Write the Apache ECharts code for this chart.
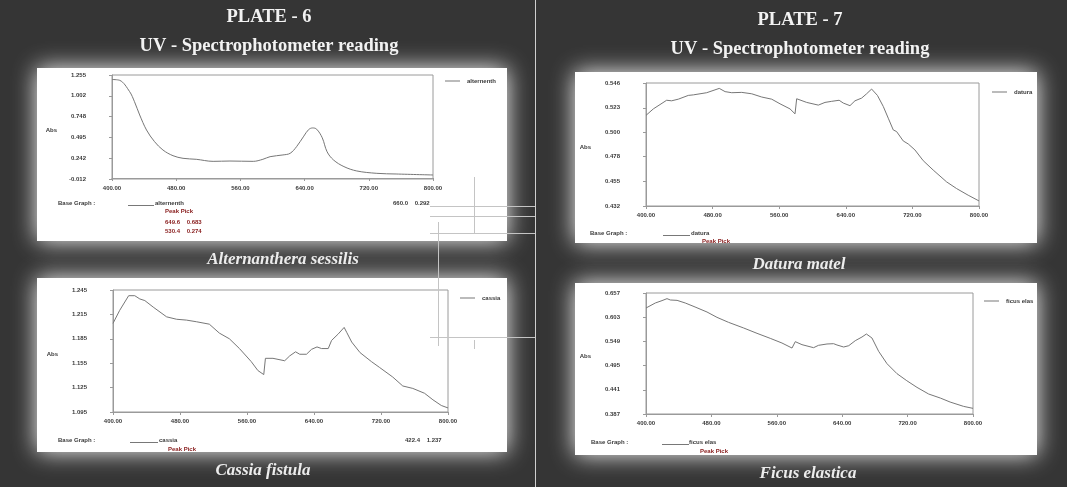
<!DOCTYPE html>
<html>
<head>
<meta charset="utf-8">
<script src="https://cdn.jsdelivr.net/npm/echarts@6/dist/echarts.min.js"></script>
<style>
html,body{margin:0;padding:0;background:#353535;}
#chart{width:1067px;height:487px;}
</style>
</head>
<body>
<div id="chart"></div>
<script>
// ---- data ----
const altWl  = [400,409.6,422,428,434.5,443,453,463.5,476,488.5,505,526,547,576,588,597,613,622,630,639,645,650,655,662,668,676,689,705,730,754,800];
const altAbs = [1.20,1.19,1.052,0.93,0.768,0.585,0.443,0.341,0.272,0.24,0.228,0.203,0.207,0.203,0.228,0.26,0.281,0.301,0.382,0.51,0.59,0.61,0.595,0.49,0.32,0.22,0.139,0.086,0.057,0.049,0.037];

const casWl  = [400,408,418.7,426,432,438,448,464,476,487.6,499.5,515,527,539,551,565,573,580,582,591,605,611,618,623,631,637,643.6,649,657,661,669,676,679,685,695,708.5,718,734,746,758,772,782,792,800];
const casAbs = [1.204,1.220,1.238,1.238,1.234,1.232,1.224,1.212,1.209,1.208,1.206,1.203,1.192,1.185,1.173,1.157,1.146,1.141,1.161,1.161,1.158,1.164,1.169,1.166,1.166,1.172,1.175,1.173,1.173,1.183,1.191,1.199,1.193,1.181,1.168,1.157,1.150,1.138,1.127,1.124,1.118,1.110,1.103,1.100];

const datWl  = [400,408.8,416.8,424.8,430.8,438.8,450.8,456.9,472.9,488,495,503,515,527,539,551,561,573,579,581,593,607,615,623,632,637,645,651,659,665,671,678,685,691,697,701,709,715,723,733,745,761,773,787,800];
const datAbs = [0.516,0.522,0.526,0.530,0.5295,0.531,0.5345,0.535,0.537,0.541,0.538,0.537,0.5373,0.536,0.533,0.531,0.5267,0.522,0.5174,0.5314,0.528,0.5255,0.528,0.529,0.530,0.5274,0.525,0.5295,0.532,0.536,0.5404,0.5345,0.5243,0.5134,0.5025,0.501,0.4923,0.4895,0.484,0.474,0.4653,0.4544,0.4482,0.442,0.4367];

const ficWl  = [400,411.4,419.6,425.7,429.8,438,448,460,474.6,486.8,501,519.5,535.8,552,566.3,578.6,582.6,590.8,605,611,621.4,629.5,633.6,641.8,648,656,664.2,669.6,676.4,684.6,694.8,707,719,731.5,745.7,760,772,788.5,800];
const ficAbs = [0.6235,0.6347,0.640,0.6444,0.6414,0.6406,0.6347,0.6258,0.6146,0.6027,0.5915,0.5789,0.567,0.5558,0.5454,0.5342,0.5484,0.5417,0.535,0.5402,0.5432,0.5439,0.541,0.5365,0.5394,0.5506,0.5588,0.5655,0.5566,0.5268,0.4993,0.477,0.4613,0.4464,0.4316,0.4226,0.4137,0.404,0.3996];

const altTicks = ['1.255','1.002','0.748','0.495','0.242','-0.012'];
const casTicks = ['1.245','1.215','1.185','1.155','1.125','1.095'];
const datTicks = ['0.546','0.523','0.500','0.478','0.455','0.432'];
const ficTicks = ['0.657','0.603','0.549','0.495','0.441','0.387'];
const xTickLabels = ['400.00','480.00','560.00','640.00','720.00','800.00'];

const seriesNames = ['alternenth','cassia','datura','ficus elas'];
const captions = ['Alternanthera sessilis','Cassia fistula','Datura matel','Ficus elastica'];
const readouts = ['660.0    0.292','422.4    1.237','',''];
const peakRows = ['649.6    0.683','530.4    0.274'];

// ---- layout ----
const grids = [
  {left:112, top:75,  width:321, height:104},
  {left:113, top:290, width:335, height:122},
  {left:646, top:83,  width:333, height:123},
  {left:646, top:293, width:327, height:121}
];
const panels = [
  {x:37, y:68,  w:470, h:173},
  {x:37, y:278, w:470, h:174},
  {x:575,y:72,  w:462, h:171},
  {x:575,y:283, w:462, h:172}
];
const legendPos = [{left:445,top:78},{left:460,top:295},{left:992,top:89},{left:984,top:298}];
const baseGraphPos = [
  {bx:58, by:203, lx1:128, lx2:154, nx:155, px:165, py:211, rx:393},
  {bx:58, by:440, lx1:130, lx2:158, nx:159, px:168, py:449, rx:405},
  {bx:590,by:233, lx1:663, lx2:690, nx:691, px:702, py:241, rx:0},
  {bx:591,by:442, lx1:662, lx2:689, nx:689, px:700, py:451, rx:0}
];

const wl = [altWl,casWl,datWl,ficWl];
const ab = [altAbs,casAbs,datAbs,ficAbs];
const ticks = [altTicks,casTicks,datTicks,ficTicks];

const smallFont = {fontFamily:'Liberation Sans, Arial, sans-serif', fontSize:6, fontWeight:'bold', color:'#3a3a3a'};
const axisCol = '#9a9a9a';

const xAxes = [], yAxes = [], series = [], legends = [];
for (let i=0;i<4;i++){
  xAxes.push({
    gridIndex:i, type:'value', min:400, max:800, interval:80,
    axisLine:{show:true,lineStyle:{color:axisCol}},
    axisTick:{show:true,length:3,lineStyle:{color:axisCol}},
    splitLine:{show:false},
    axisLabel:Object.assign({margin:6, formatter:(v)=>{const k=Math.round((v-400)/80);return xTickLabels[k]||'';}}, smallFont)
  });
  const tv = ticks[i].map(Number);
  yAxes.push({
    gridIndex:i, type:'value', min:Math.min(...tv), max:Math.max(...tv),
    name:'Abs', nameLocation:'middle', nameRotate:0, nameGap:55,
    nameTextStyle:Object.assign({align:'right', verticalAlign:'top'}, smallFont),
    axisLine:{show:true,lineStyle:{color:axisCol}},
    axisTick:{show:true,length:3,lineStyle:{color:axisCol},customValues:tv},
    splitLine:{show:false},
    axisLabel:Object.assign({margin:26, customValues:tv, formatter:(v)=>{
      let best=0,bd=1e9; tv.forEach((t,k)=>{const d=Math.abs(t-v); if(d<bd){bd=d;best=k;}}); return ticks[i][best];}}, smallFont)
  });
  series.push({
    name:seriesNames[i], type:'line', xAxisIndex:i, yAxisIndex:i,
    data:wl[i].map((w,k)=>[w,ab[i][k]]),
    symbol:'none', smooth:i===0?0.35:false,
    lineStyle:{color:'#777777',width:1}, itemStyle:{color:'#777777'}
  });
  legends.push({
    data:[seriesNames[i]], left:legendPos[i].left, top:legendPos[i].top,
    icon:'rect', itemWidth:15, itemHeight:1, itemGap:4, padding:0,
    selectedMode:false,
    textStyle:Object.assign({padding:[0,0,0,2]}, smallFont)
  });
}

// ---- decorative graphics ----
const els = [];
panels.forEach(p=>{
  els.push({type:'rect', z:-10, shape:{x:p.x,y:p.y,width:p.w,height:p.h},
    style:{fill:'#ffffff', shadowBlur:22, shadowColor:'rgba(255,255,255,0.95)'}});
});
// divider
els.push({type:'line', z:-9, shape:{x1:535.5,y1:0,x2:535.5,y2:487}, style:{stroke:'#cfcfcf',lineWidth:1}});
// stray guide lines
const guide = '#c4c4c4';
[[430,206.5,535,206.5],[430,216.5,535,216.5],[430,233.5,535,233.5],[430,337.5,535,337.5],
 [474.5,177,474.5,233],[438.5,222,438.5,346],[474.5,340,474.5,349]].forEach(l=>{
  els.push({type:'line', z:5, shape:{x1:l[0],y1:l[1],x2:l[2],y2:l[3]}, style:{stroke:guide,lineWidth:1}});
});
// titles
const titleFont = 'bold 18.5px "Liberation Serif", "Times New Roman", serif';
[[269,'PLATE - 6',17],[269,'UV - Spectrophotometer reading',46],[800,'PLATE - 7',20],[800,'UV - Spectrophotometer reading',49]].forEach(t=>{
  els.push({type:'text', z:10, style:{text:t[1], x:t[0], y:t[2], fill:'#f2f2f2', font:titleFont, textAlign:'center', textVerticalAlign:'middle'}});
});
// captions
const capPos = [[283,260],[263,471],[799,265],[808,474]];
captions.forEach((c,i)=>{
  els.push({type:'text', z:10, style:{text:c, x:capPos[i][0], y:capPos[i][1], fill:'#ececec',
    font:'italic bold 17px "Liberation Serif", "Times New Roman", serif', textAlign:'center', textVerticalAlign:'middle'}});
});
// base graph texts
const sf = 'bold 6px "Liberation Sans", Arial, sans-serif';
baseGraphPos.forEach((b,i)=>{
  els.push({type:'text', z:10, style:{text:'Base Graph :', x:b.bx, y:b.by, fill:'#3a3a3a', font:sf, textVerticalAlign:'middle'}});
  els.push({type:'line', z:10, shape:{x1:b.lx1,y1:b.by+2.5,x2:b.lx2,y2:b.by+2.5}, style:{stroke:'#555',lineWidth:0.8}});
  els.push({type:'text', z:10, style:{text:seriesNames[i], x:b.nx, y:b.by, fill:'#3a3a3a', font:sf, textVerticalAlign:'middle'}});
  els.push({type:'text', z:10, style:{text:'Peak Pick', x:b.px, y:b.py, fill:'#8b2222', font:sf, textVerticalAlign:'middle'}});
  if (readouts[i]) els.push({type:'text', z:10, style:{text:readouts[i], x:b.rx, y:b.by, fill:'#3a3a3a', font:sf, textVerticalAlign:'middle'}});
});
peakRows.forEach((r,k)=>{
  els.push({type:'text', z:10, style:{text:r, x:165, y:222+k*9, fill:'#8b2222', font:sf, textVerticalAlign:'middle'}});
});

const chart = echarts.init(document.getElementById('chart'), null, {renderer:'canvas'});
chart.setOption({
  backgroundColor:'#353535',
  animation:false,
  grid:grids.map(g=>Object.assign({show:true, borderColor:axisCol, borderWidth:1, backgroundColor:'transparent', containLabel:false}, g)),
  xAxis:xAxes, yAxis:yAxes, series:series, legend:legends,
  graphic:{elements:els}
});
</script>
</body>
</html>
